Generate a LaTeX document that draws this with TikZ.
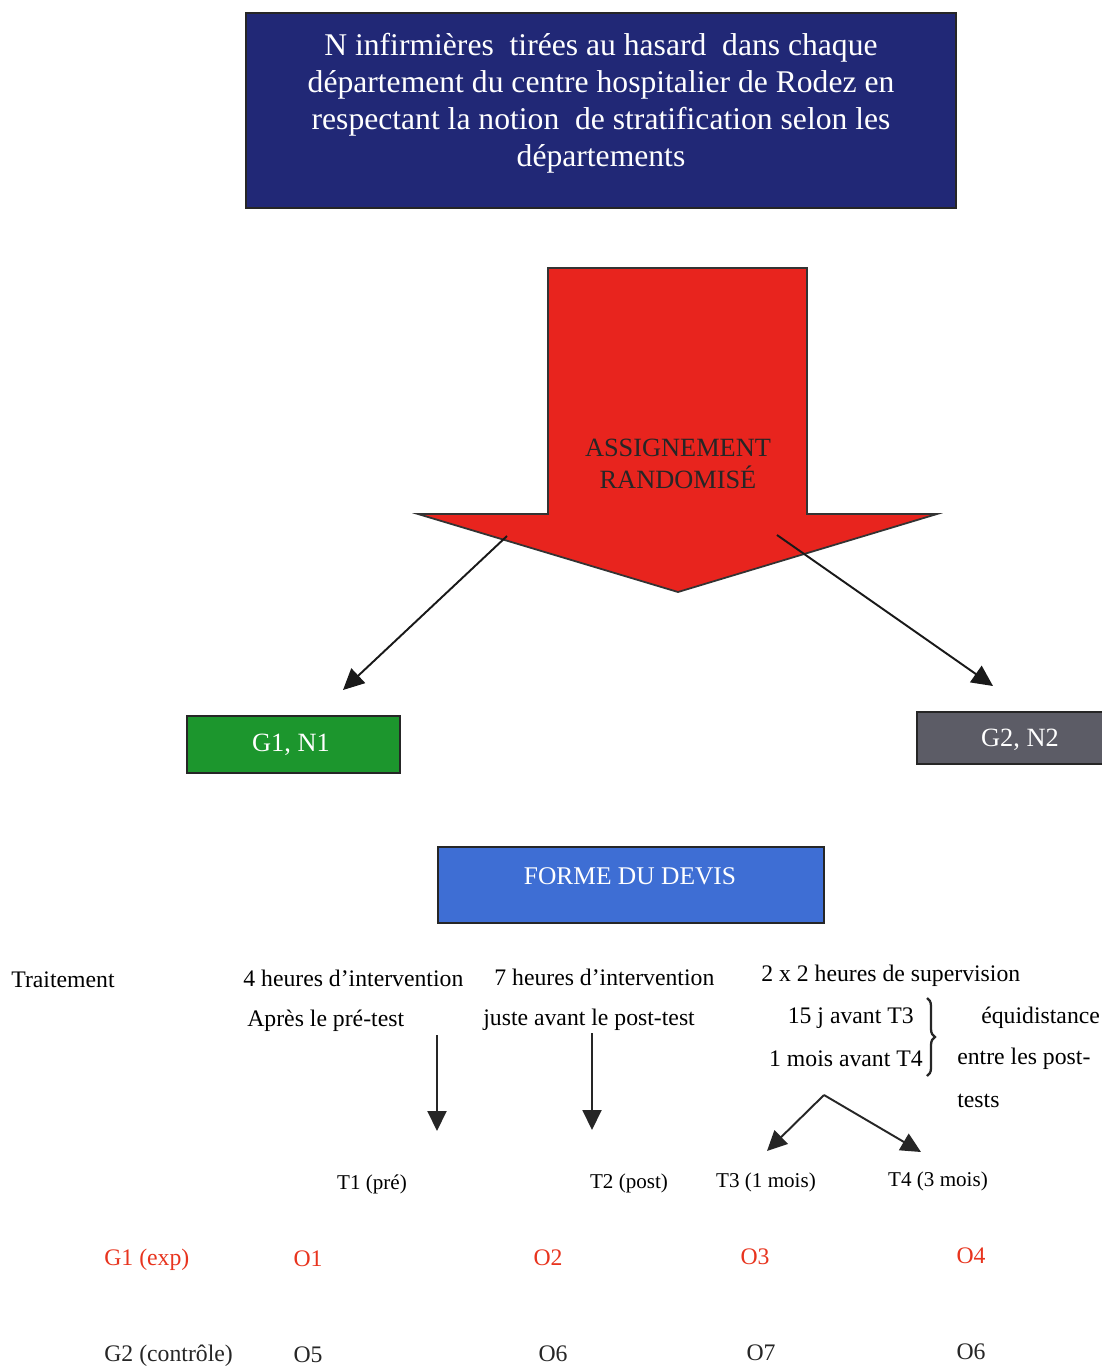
\documentclass[tikz,border=0pt]{standalone}
\usepackage{fontspec}
\setmainfont{Liberation Serif}
\usetikzlibrary{arrows.meta,decorations.pathreplacing}
\definecolor{navybox}{RGB}{33,40,118}
\definecolor{arrowred}{RGB}{232,36,30}
\definecolor{groupgreen}{RGB}{28,150,45}
\definecolor{groupgrey}{RGB}{92,92,102}
\definecolor{devisblue}{RGB}{62,110,212}
\definecolor{obsred}{RGB}{232,52,30}
\begin{document}
\begin{tikzpicture}[x=0.02cm,y=-0.02cm,
  box/.style={draw=black!85, line width=1.1pt, inner sep=0pt},
  whitetxt/.style={text=white, inner sep=0pt, align=center},
  body/.style={inner sep=0pt, font=\fontsize{13.5pt}{16pt}\selectfont},
  tlabel/.style={inner sep=0pt, font=\fontsize{12pt}{14pt}\selectfont},
  obs/.style={inner sep=0pt, font=\fontsize{13.5pt}{16pt}\selectfont},
  link/.style={line width=1.1pt, black!90, -{Triangle[length=0.42cm,width=0.4cm]}},
  smalllink/.style={line width=1.1pt, black!85, -{Triangle[length=0.4cm,width=0.38cm]}}]
\useasboundingbox (0,0) rectangle (1102,1367);
\fill[white] (0,0) rectangle (1102,1367);

% population box
\node[box, fill=navybox, minimum width=14.2cm, minimum height=3.9cm] (pop) at (601,110.5) {};
\node[whitetxt, font=\fontsize{18pt}{21pt}\selectfont] (poptxt) at (601,103)
  {N infirmières\ \ tirées au hasard\ \ dans chaque\\
   département du centre hospitalier de Rodez en\\
   respectant la notion\ \ de stratification selon les\\
   départements};

% randomisation arrow
\filldraw[fill=arrowred, draw=black!80, line width=1pt]
  (548,268) -- (807,268) -- (807,514) -- (937,514) -- (678,592)
  -- (418,514) -- (548,514) -- cycle;
\node[inner sep=0pt, align=center, text=black!85,
  font=\fontsize{15pt}{18pt}\selectfont] (assign) at (678,464)
  {ASSIGNEMENT\\RANDOMISÉ};
\coordinate (splitL) at (507,536);
\coordinate (splitR) at (777,535);

% groups
\node[box, fill=groupgreen, minimum width=4.26cm, minimum height=1.14cm] (g1) at (293.5,744.5) {};
\node[whitetxt, font=\fontsize{15pt}{18pt}\selectfont] (g1txt) at (291,745) {G1, N1};
\node[box, fill=groupgrey, minimum width=3.86cm, minimum height=1.04cm] (g2) at (1013.5,738) {};
\node[whitetxt, font=\fontsize{15pt}{18pt}\selectfont] (g2txt) at (1020,740) {G2, N2};
\coordinate (g1in) at (343,690);
\coordinate (g2in) at (993,686);
\draw[link] (splitL) -- (g1in);
\draw[link] (splitR) -- (g2in);

% design title
\node[box, fill=devisblue, minimum width=7.72cm, minimum height=1.52cm] (devis) at (631,885) {};
\node[whitetxt, font=\fontsize{14.5pt}{17pt}\selectfont] (devistxt) at (630,876) {FORME DU DEVIS};

% treatment description
\node[body, anchor=west] (trait) at (11,980) {Traitement};
\node[body, anchor=west] (int4) at (243,978) {4 heures d’intervention};
\node[body, anchor=west] (int7) at (494,977) {7 heures d’intervention};
\node[body, anchor=west] (sup) at (761,976) {2 x 2 heures de supervision};
\node[body, anchor=west] (apres) at (247,1021) {Après le pré-test};
\node[body, anchor=west] (juste) at (483,1020) {juste avant le post-test};
\node[body, anchor=east] (j15) at (914,1018) {15 j avant T3};
\node[body, anchor=east] (m1) at (923,1059) {1 mois avant T4};
\node[body, anchor=west] (equi) at (981,1018) {équidistance};
\node[body, anchor=west] (entre) at (957,1059) {entre les post-};
\node[body, anchor=west] (tests) at (957,1101) {tests};
\draw[line width=1.3pt, black!85, decorate, decoration={brace, amplitude=0.16cm}]
  (927,998) -- (927,1076);

% timing arrows
\coordinate (a1s) at (437,1035);
\coordinate (a1e) at (437,1131);
\coordinate (a2s) at (592,1033);
\coordinate (a2e) at (592,1130);
\draw[smalllink] (a1s) -- (a1e);
\draw[smalllink] (a2s) -- (a2e);
\coordinate (apex) at (824,1095);
\coordinate (t3in) at (767,1151);
\coordinate (t4in) at (921,1152);
\draw[smalllink] (apex) -- (t3in);
\draw[smalllink] (apex) -- (t4in);

% measurement times
\node[tlabel] (t1) at (372,1184) {T1 (pré)};
\node[tlabel] (t2) at (629,1183) {T2 (post)};
\node[tlabel] (t3) at (766,1182) {T3 (1 mois)};
\node[tlabel] (t4) at (938,1181) {T4 (3 mois)};

% observations
\node[obs, text=obsred, anchor=west] (g1row) at (104,1260) {G1 (exp)};
\node[obs, text=obsred] (o1) at (308,1259) {O1};
\node[obs, text=obsred] (o2) at (548,1258) {O2};
\node[obs, text=obsred] (o3) at (755,1257) {O3};
\node[obs, text=obsred] (o4) at (971,1256) {O4};
\node[obs, text=black!85, anchor=west] (g2row) at (104,1356) {G2 (contrôle)};
\node[obs, text=black!85] (o5) at (308,1355) {O5};
\node[obs, text=black!85] (o6) at (553,1354) {O6};
\node[obs, text=black!85] (o7) at (761,1353) {O7};
\node[obs, text=black!85] (o8) at (971,1352) {O6};
\end{tikzpicture}
\end{document}
